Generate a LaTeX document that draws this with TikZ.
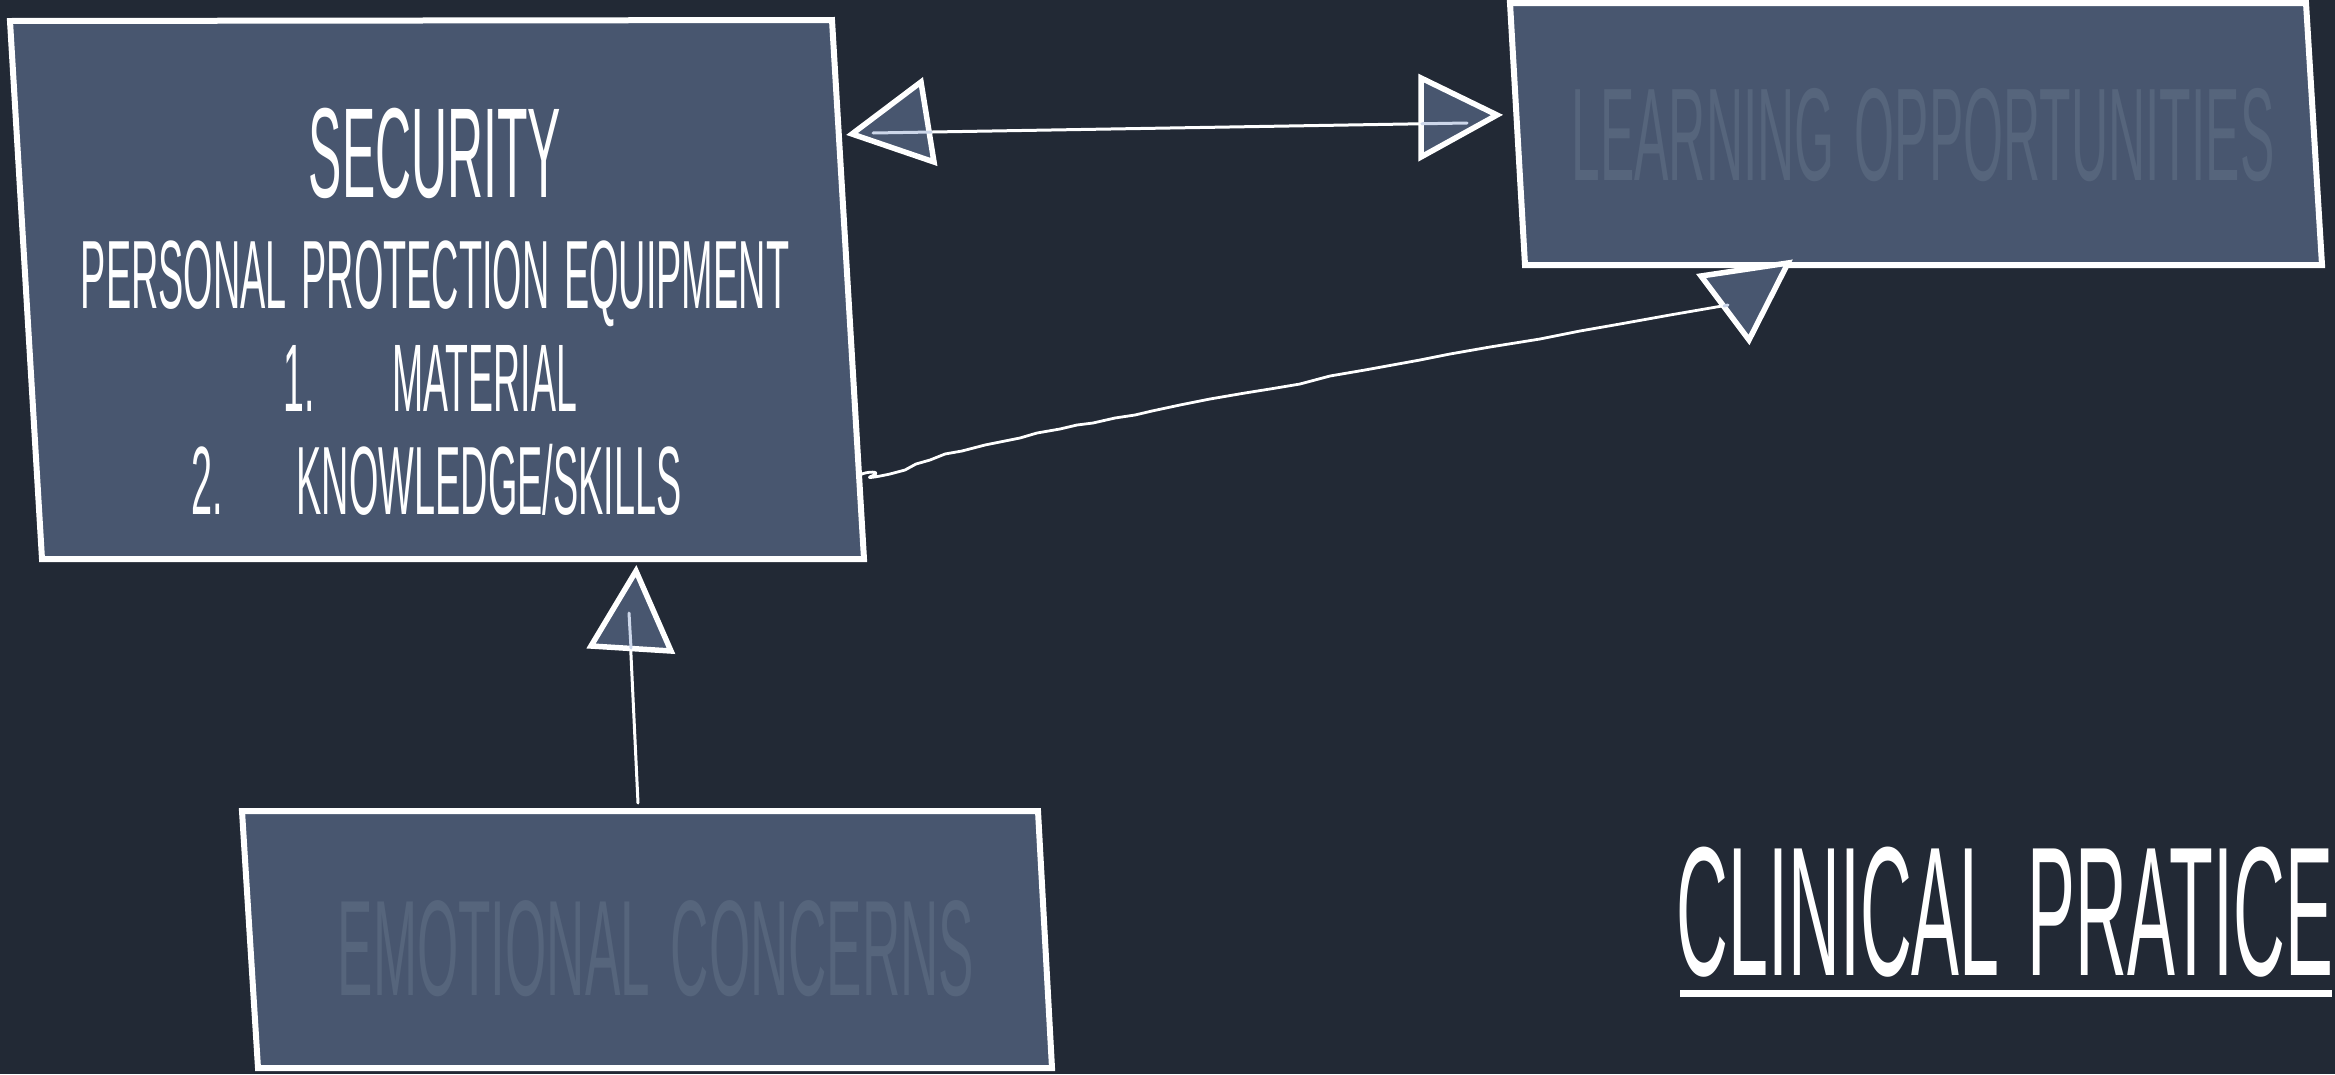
\documentclass[tikz,border=0pt]{standalone}
\usepackage{fontspec}
\usetikzlibrary{calc}
\newfontfamily\hand{Liberation Sans}[FakeStretch=0.39,WordSpace=1.4]
\definecolor{bg}{HTML}{222935}
\definecolor{boxfill}{HTML}{48566F}
\definecolor{faint}{HTML}{56657C}
\definecolor{innerline}{HTML}{CDD7EA}
\begin{document}
\begin{tikzpicture}[x=1pt,y=-1pt,
  box/.style={fill=boxfill,draw=white,line width=6pt,line join=miter},
  head/.style={fill=boxfill,draw=white,line width=5.5pt,line join=miter},
  conn/.style={draw=white,line width=3pt,line cap=round,line join=round},
  inconn/.style={draw=innerline,line width=3pt,line cap=round},
  txt/.style={inner sep=0pt,anchor=base,text=white,font=\hand},
  ghost/.style={inner sep=0pt,anchor=base,text=faint,font=\hand},
]
\fill[bg] (0,0) rectangle (2335,1074);
\useasboundingbox (0,0) rectangle (2335,1074);

% boxes
\path[box] (10,21) -- (832,20) -- (864,559) -- (42,559) -- cycle;
\path[box] (1510,3) -- (2306,3) -- (2322,265) -- (1525,265) -- cycle;
\path[box] (242,811) -- (1038,811) -- (1052,1068) -- (258,1068) -- cycle;

% texts
\node[txt] (sec) at (435,197) {\fontsize{128}{140}\selectfont SECURITY};
\node[txt] (ppe) at (435,308) {\fontsize{97}{110}\selectfont PERSONAL PROTECTION EQUIPMENT};
\node[txt,anchor=base west] (mat) at (283,411) {\fontsize{96}{110}\selectfont 1.\hspace{78pt}MATERIAL};
\node[txt,anchor=base west] (kno) at (191,514) {\fontsize{97}{110}\selectfont 2.\hspace{74pt}KNOWLEDGE/SKILLS};
\node[ghost] (learn) at (1923,180) {\fontsize{132}{140}\selectfont LEARNING OPPORTUNITIES};
\node[ghost] (emo) at (656,995) {\fontsize{136}{140}\selectfont EMOTIONAL CONCERNS};
\node[txt] (clin) at (2005,975) {\fontsize{184}{190}\selectfont CLINICAL PRATICE};
\coordinate (ulL) at (1680,993);
\coordinate (ulR) at (2332,993);
\draw[white,line width=7pt] (ulL) -- (ulR);

% connector endpoints
\coordinate (secR) at (873,133);
\coordinate (learnL) at (1467,123);
\coordinate (secW) at (860,475);
\coordinate (learnB) at (1728,305);
\coordinate (emoT) at (638,803);
\coordinate (secB) at (629,613);

% double arrow security <-> learning
\draw[conn] (secR) -- (learnL);
\path[head] (852,134) -- (921,82) -- (934,162) -- cycle;
\path[head] (1497,115) -- (1421,78) -- (1421,157) -- cycle;
\draw[inconn] (secR) -- ($(secR)!0.098!(learnL)$);
\draw[inconn] ($(secR)!0.924!(learnL)$) -- (learnL);

% wavy connector security -> learning
\draw[conn,line width=2.8pt] (secW) .. controls (866,471) and (884,471) .. (872,476)
  .. controls (864,479) and (876,477) .. (890,474)
  -- (905,470) -- (916,464) -- (930,460) -- (945,454) -- (962,451)
  -- (985,445) -- (1000,442) -- (1020,438) -- (1037,433) -- (1060,429)
  -- (1077,425) -- (1093,423) -- (1115,418) -- (1135,415) -- (1152,411)
  -- (1180,405) -- (1210,399) -- (1245,393) -- (1270,389) -- (1300,384)
  -- (1330,376) -- (1365,370) -- (1398,364) -- (1420,360) -- (1450,354)
  -- (1490,347) -- (1540,339) -- (1580,331) -- (1620,324) -- (1670,315)
  -- (learnB);
\path[head] (1701,276) -- (1788,263) -- (1749,340) -- cycle;
\draw[inconn] (1724,306) -- (learnB);

% emotional -> security
\draw[conn] (emoT) -- (secB);
\path[head] (636,571) -- (591,646) -- (671,651) -- cycle;
\draw[inconn] (631,648) -- (secB);
\end{tikzpicture}
\end{document}
